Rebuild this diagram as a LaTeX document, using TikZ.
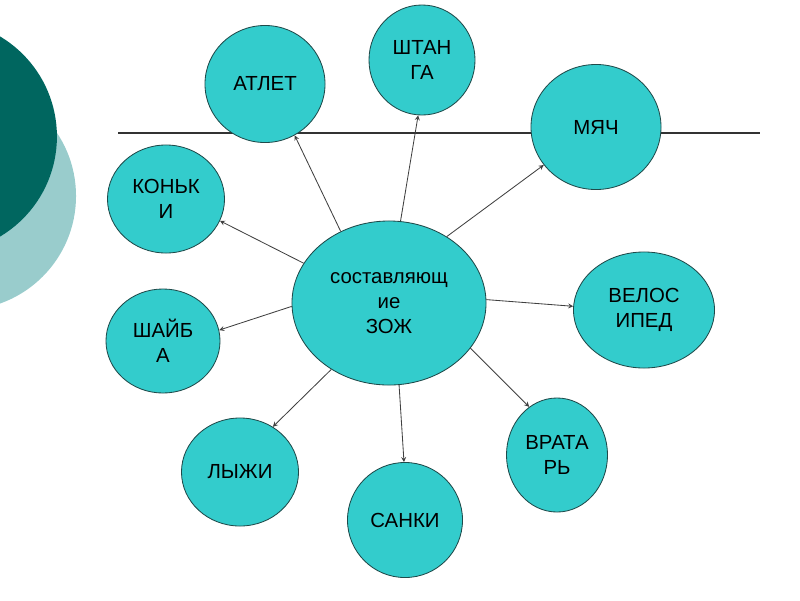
\documentclass[tikz,border=0pt]{standalone}
\usepackage{fontspec}
\setmainfont{Liberation Sans}
\usetikzlibrary{shapes,arrows,positioning}

\definecolor{tealfill}{HTML}{33CCCC}
\definecolor{tealdark}{HTML}{00665F}
\definecolor{teallight}{HTML}{99CCCC}
\definecolor{rimcol}{HTML}{1F4A4A}

\begin{document}
\begin{tikzpicture}[
    x=0.025cm, y=-0.025cm,
    item/.style={ellipse, draw=rimcol, line width=0.6pt, fill=tealfill, inner sep=0pt, align=center, font=\fontsize{14.5}{18}\selectfont},
    link/.style={->,>=stealth, draw=black!75, line width=0.6pt}
]
\useasboundingbox (0,0) rectangle (800,600);

% corner decoration
\fill[teallight] (-38,196) circle[radius=2.85cm];
\fill[tealdark] (-59.5,136.5) circle[radius=2.91cm];

% horizontal rule
\draw[black!80, line width=1pt] (118,133) -- (760,133);

% centre
\node[item, minimum width=4.85cm, minimum height=4.1cm] (zozh) at (389,303) {составляющ\\ие\\ЗОЖ};

% outer circles
\node[item, minimum width=3cm, minimum height=2.925cm] (atlet) at (265,84) {АТЛЕТ};
\node[item, minimum width=2.65cm, minimum height=2.75cm] (shtanga) at (422,60) {ШТАН\\ГА};
\node[item, minimum width=3.25cm, minimum height=3.125cm] (myach) at (596,127) {МЯЧ};
\node[item, minimum width=2.925cm, minimum height=2.7cm] (konki) at (166,199) {КОНЬК\\И};
\node[item, minimum width=3.525cm, minimum height=2.9cm] (velo) at (644,310) {ВЕЛОС\\ИПЕД};
\node[item, minimum width=2.85cm, minimum height=2.6cm] (shaiba) at (163,341) {ШАЙБ\\А};
\node[item, minimum width=2.925cm, minimum height=2.7cm] (lyzhi) at (240,472) {ЛЫЖИ};
\node[item, minimum width=2.875cm, minimum height=2.875cm] (sanki) at (405,520) {САНКИ};
\node[item, minimum width=2.525cm, minimum height=2.85cm] (vratar) at (557,455) {ВРАТА\\РЬ};

% links
\draw[link] (zozh.124) -- (atlet.300);
\draw[link] (zozh.82) -- (shtanga.266);
\draw[link] (zozh.49) -- (myach.216);
\draw[link] (zozh.155) -- (konki.338);
\draw[link] (zozh.2) -- (velo.177);
\draw[link] (zozh.182) -- (shaiba.11);
\draw[link] (zozh.229) -- (lyzhi.54);
\draw[link] (zozh.277) -- (sanki.91);
\draw[link] (zozh.331) -- (vratar.120);

\end{tikzpicture}
\end{document}
